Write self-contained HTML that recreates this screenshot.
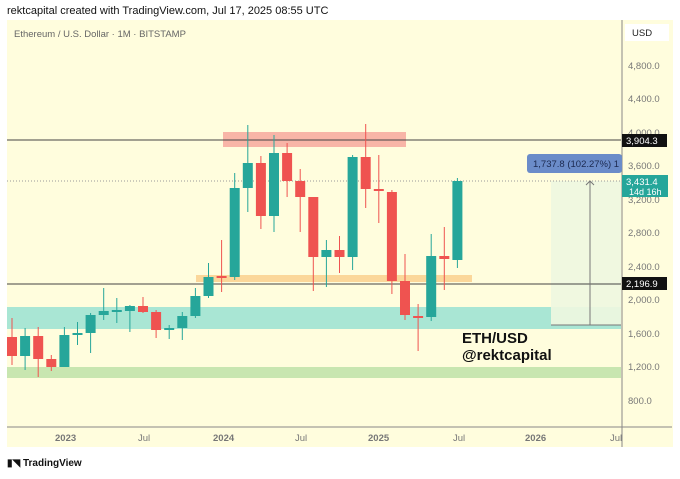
<!DOCTYPE html>
<html><head><meta charset="utf-8"><style>
body{margin:0;width:680px;height:474px;background:#fff;overflow:hidden;font-family:"Liberation Sans",sans-serif}
</style></head><body>
<svg width="680" height="474" xmlns="http://www.w3.org/2000/svg" font-family="Liberation Sans, sans-serif">
<text x="7" y="14" font-size="11" fill="#111">rektcapital created with TradingView.com, Jul 17, 2025 08:55 UTC</text>
<rect x="7" y="20" width="666" height="427" fill="#fffddd"/>
<text x="14" y="37" font-size="9.5" fill="#666">Ethereum / U.S. Dollar · 1M · BITSTAMP</text>
<rect x="625" y="24" width="44" height="17" fill="#fff"/>
<text x="632" y="36" font-size="9.5" fill="#222">USD</text>
<!-- zones -->
<rect x="7" y="307" width="614" height="22" fill="#a9e6d4"/>
<rect x="7" y="367" width="614" height="11" fill="#c8e6b0"/>
<rect x="223" y="132" width="183" height="15" fill="#f8b5a7"/>
<rect x="196" y="275" width="276" height="7" fill="#fbd79a"/>
<rect x="551" y="181" width="70" height="144" fill="#eef7e0" opacity="0.9"/>
<line x1="7" y1="140" x2="621" y2="140" stroke="#444" stroke-width="1"/>
<line x1="7" y1="284" x2="621" y2="284" stroke="#444" stroke-width="1"/>
<line x1="7" y1="181" x2="621" y2="181" stroke="#999" stroke-width="1" stroke-dasharray="1,2"/>
<line x1="551" y1="325" x2="621" y2="325" stroke="#777"/>
<line x1="590" y1="325" x2="590" y2="181" stroke="#777"/>
<path d="M586 185 L590 181 L594 185" fill="none" stroke="#777"/>
<g id="c"></g>
<text x="462" y="343" font-size="15" font-weight="bold" fill="#111">ETH/USD</text>
<text x="462" y="360" font-size="15" font-weight="bold" fill="#111">@rektcapital</text>
<!-- axes -->
<line x1="622" y1="20" x2="622" y2="447" stroke="#888"/>
<line x1="7" y1="427" x2="672" y2="427" stroke="#888"/>
<g font-size="9.5" fill="#777">
<text x="628" y="69">4,800.0</text><text x="628" y="102">4,400.0</text><text x="628" y="136">4,000.0</text>
<text x="628" y="169">3,600.0</text><text x="628" y="203">3,200.0</text><text x="628" y="236">2,800.0</text>
<text x="628" y="270">2,400.0</text><text x="628" y="303">2,000.0</text><text x="628" y="337">1,600.0</text>
<text x="628" y="370">1,200.0</text><text x="628" y="404">800.0</text>
<text x="55" y="441" font-weight="bold">2023</text><text x="138" y="441">Jul</text>
<text x="213" y="441" font-weight="bold">2024</text><text x="295" y="441">Jul</text>
<text x="368" y="441" font-weight="bold">2025</text><text x="453" y="441">Jul</text>
<text x="525" y="441" font-weight="bold">2026</text><text x="610" y="441">Jul</text>
</g>
<rect x="622" y="134" width="45" height="13" fill="#111"/><text x="626" y="144" font-size="9.5" fill="#fff">3,904.3</text>
<rect x="622" y="277" width="45" height="13" fill="#111"/><text x="626" y="287" font-size="9.5" fill="#fff">2,196.9</text>
<rect x="622" y="175" width="46" height="22" fill="#26a69a"/><text x="626" y="185" font-size="9.5" fill="#fff">3,431.4</text><text x="629" y="195" font-size="9" fill="#fff">14d 16h</text>
<rect x="527" y="154" width="95" height="19" rx="3" fill="#6b8cc9"/><text x="533" y="167" font-size="9.5" fill="#1c2a50">1,737.8 (102.27%) 1</text>
<text x="7" y="466" font-size="10" fill="#111" font-weight="bold">▮◥ TradingView</text>
</svg>
<script>
const d=[
[0,318,365,337,356],[1,328,370,336,356],[0,327,377,336,359],[0,355,371,359,367],[1,327,367,335,367],
[1,322,345,333,335],[1,313,353,315,333],[1,288,320,311,315],[1,298,323,310,311],[1,305,332,306,311],
[0,297,313,306,312],[0,310,338,312,330],[1,325,339,328,330],[1,312,340,316,328],[1,288,318,296,316],
[1,263,298,277,296],[0,240,292,276,277],[1,173,280,188,277],[1,125,212,163,188],[0,156,229,163,216],
[1,135,232,153,216],[0,143,197,153,181],[0,169,232,181,197],[0,197,291,197,257],[1,240,287,250,257],
[0,236,273,250,257],[1,155,270,157,257],[0,124,208,157,189],[0,155,223,189,191],[0,190,294,192,281],
[0,254,320,281,315],[0,304,351,316,317],[1,234,321,256,317],[0,227,290,256,259],[1,178,268,181,260]];
let s='';d.forEach((c,i)=>{const x=12+13.1*i,col=c[0]?'#26a69a':'#ef5350';
s+=`<line x1="${x}" x2="${x}" y1="${c[1]}" y2="${c[2]}" stroke="${col}" stroke-width="1"/><rect x="${x-5}" y="${c[3]}" width="10" height="${Math.max(2,c[4]-c[3])}" fill="${col}"/>`;});
document.getElementById('c').innerHTML=s;
</script>
</body></html>
